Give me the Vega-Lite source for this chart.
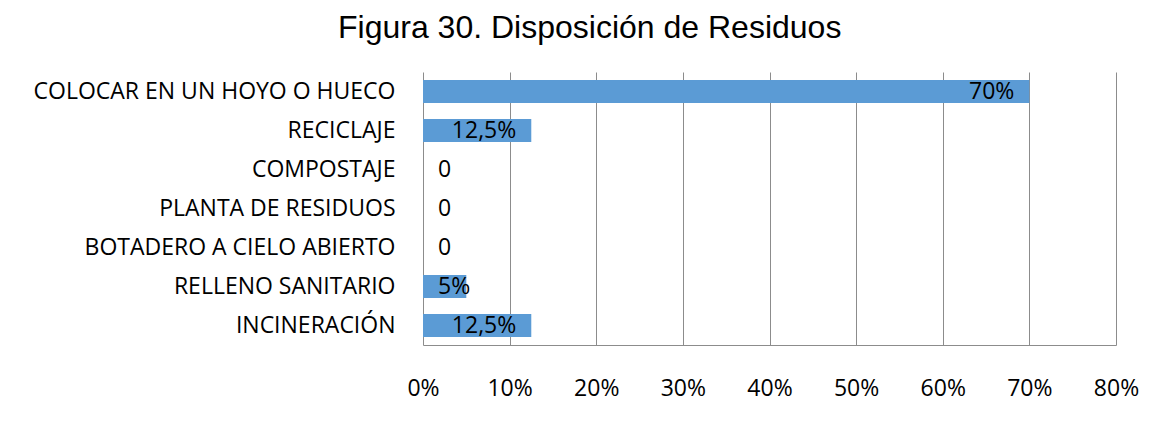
{
  "$schema": "https://vega.github.io/schema/vega-lite/v6.json",
  "width": 693,
  "height": 273,
  "autosize": {"type": "none"},
  "padding": {"left": 423, "top": 72, "right": 42, "bottom": 82},
  "background": "white",
  "title": {
    "text": "Figura 30. Disposición de Residuos",
    "font": "Liberation Sans",
    "fontSize": 32,
    "fontWeight": "normal",
    "color": "#000000",
    "anchor": "start",
    "frame": "group",
    "dx": -85,
    "dy": 27,
    "baseline": "alphabetic",
    "offset": 29
  },
  "config": {
    "view": {"stroke": null},
    "axis": {"labelFont": "Open Sans", "labelFontSize": 23, "labelColor": "#000000", "ticks": false, "titleFontSize": 0}
  },
  "data": {
    "values": [
      {"categoria": "COLOCAR EN UN HOYO O HUECO", "valor": 70, "etiqueta": "70%"},
      {"categoria": "RECICLAJE", "valor": 12.5, "etiqueta": "12,5%"},
      {"categoria": "COMPOSTAJE", "valor": 0, "etiqueta": "0"},
      {"categoria": "PLANTA DE RESIDUOS", "valor": 0, "etiqueta": "0"},
      {"categoria": "BOTADERO A CIELO ABIERTO", "valor": 0, "etiqueta": "0"},
      {"categoria": "RELLENO SANITARIO", "valor": 5, "etiqueta": "5%"},
      {"categoria": "INCINERACIÓN", "valor": 12.5, "etiqueta": "12,5%"}
    ]
  },
  "encoding": {
    "y": {
      "field": "categoria",
      "type": "nominal",
      "sort": null,
      "title": null,
      "scale": {"paddingInner": 0.41, "paddingOuter": 0.205},
      "axis": {"domain": false, "grid": false, "labelPadding": 28, "labelLimit": 400}
    }
  },
  "layer": [
    {
      "mark": {"type": "bar", "color": "#5B9BD5"},
      "encoding": {
        "x": {
          "field": "valor",
          "type": "quantitative",
          "title": null,
          "scale": {"domain": [0, 80], "nice": false},
          "axis": {
            "values": [0, 10, 20, 30, 40, 50, 60, 70, 80],
            "labelExpr": "datum.value + '%'",
            "grid": true,
            "gridColor": "#8c8c8c",
            "gridOpacity": 1,
            "domainColor": "#8c8c8c",
            "labelPadding": 32,
            "labelFlush": false
          }
        }
      }
    },
    {
      "transform": [{"filter": "datum.valor >= 10"}],
      "mark": {"type": "text", "align": "right", "baseline": "middle", "dx": -15, "font": "Open Sans", "fontSize": 23, "color": "#000000"},
      "encoding": {
        "x": {"field": "valor", "type": "quantitative"},
        "text": {"field": "etiqueta"}
      }
    },
    {
      "transform": [{"filter": "datum.valor < 10"}],
      "mark": {"type": "text", "align": "left", "baseline": "middle", "dx": 15, "font": "Open Sans", "fontSize": 23, "color": "#000000"},
      "encoding": {
        "x": {"datum": 0, "type": "quantitative"},
        "text": {"field": "etiqueta"}
      }
    }
  ]
}
